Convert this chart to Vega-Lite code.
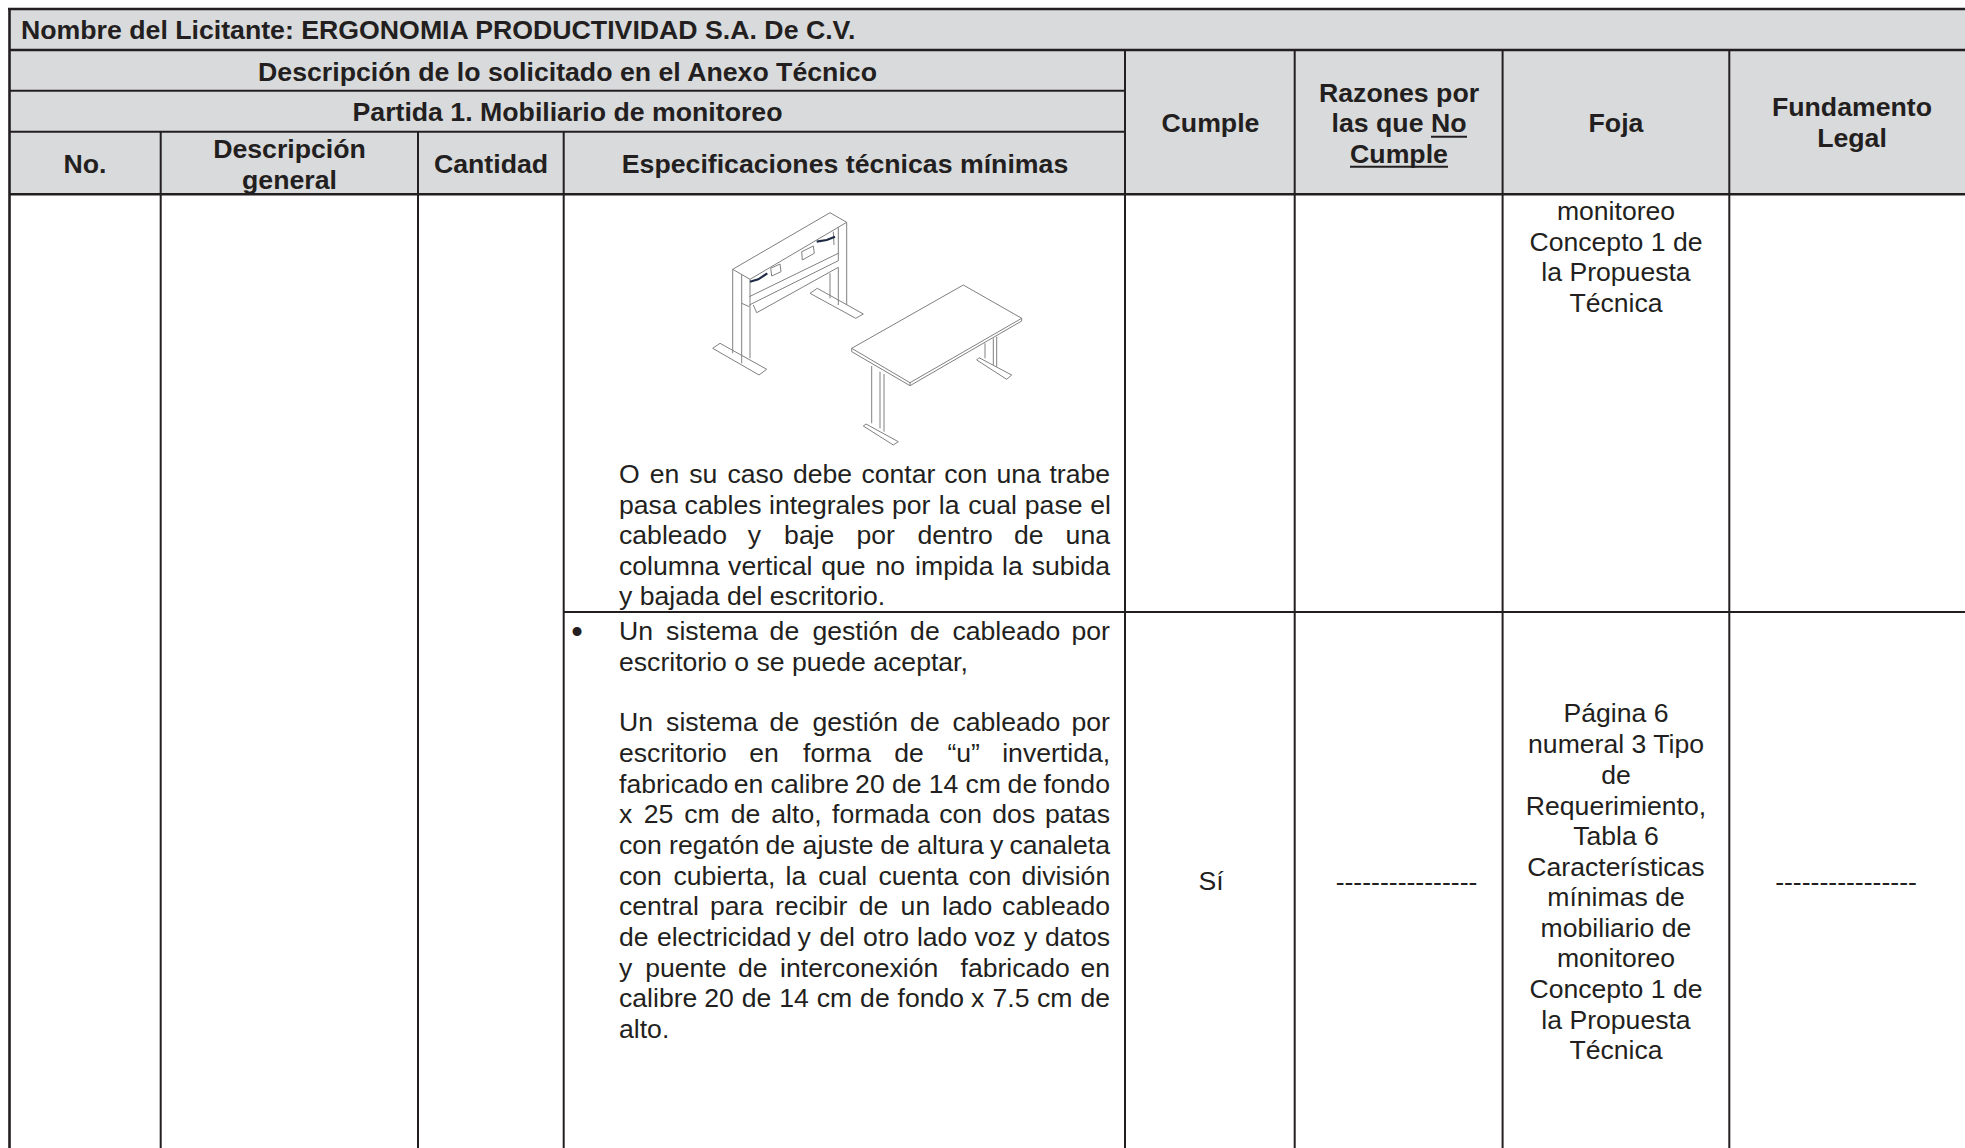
{"$schema":"https://vega.github.io/schema/vega-lite/v6.json","width":1965,"height":1148,"padding":0,"autosize":{"type":"none"},"background":"#ffffff","view":{"stroke":null},
"datasets":{
"band":[{"x":9,"x2":1965,"y":9,"y2":194}],
"rules":[
{"x":8,"x2":1965,"y":9,"y2":9,"k":"heavy"},{"x":9.5,"x2":1965,"y":50,"y2":50,"k":"heavy"},{"x":9.5,"x2":1125,"y":90.7,"y2":90.7,"k":"medium"},{"x":9.5,"x2":1125,"y":131.7,"y2":131.7,"k":"medium"},{"x":9.5,"x2":1965,"y":194.3,"y2":194.3,"k":"heavy"},{"x":564,"x2":1965,"y":612,"y2":612,"k":"medium"},
{"x":9.5,"x2":9.5,"y":9,"y2":1148,"k":"heavy"},{"x":160.7,"x2":160.7,"y":131.7,"y2":1148,"k":"medium"},{"x":418,"x2":418,"y":131.7,"y2":1148,"k":"medium"},{"x":563.7,"x2":563.7,"y":131.7,"y2":1148,"k":"medium"},{"x":1125,"x2":1125,"y":50,"y2":1148,"k":"medium"},{"x":1294.7,"x2":1294.7,"y":50,"y2":1148,"k":"medium"},{"x":1502.6,"x2":1502.6,"y":50,"y2":1148,"k":"medium"},{"x":1729.3,"x2":1729.3,"y":50,"y2":1148,"k":"medium"},
{"x":1431,"x2":1467,"y":136.7,"y2":136.7,"k":"medium"},{"x":1350,"x2":1448,"y":166.7,"y2":166.7,"k":"medium"}],
"boldCenter":[{"t":"Descripción de lo solicitado en el Anexo Técnico","x":567.5,"y":72.5},{"t":"Partida 1. Mobiliario de monitoreo","x":567.5,"y":113},{"t":"No.","x":85,"y":165},{"t":"Descripción","x":289.5,"y":150},{"t":"general","x":289.5,"y":180.5},{"t":"Cantidad","x":491,"y":165},{"t":"Especificaciones técnicas mínimas","x":845,"y":165},{"t":"Cumple","x":1210.5,"y":123.5},{"t":"Razones por","x":1399,"y":93.5},{"t":"las que No","x":1399,"y":124},{"t":"Cumple","x":1399,"y":155},{"t":"Foja","x":1616,"y":123.5},{"t":"Fundamento","x":1852,"y":108},{"t":"Legal","x":1852,"y":139}],
"boldLeft":[{"t":"Nombre del Licitante: ERGONOMIA PRODUCTIVIDAD S.A. De C.V.","x":21,"y":31}],
"center":[{"t":"monitoreo","x":1616,"y":212},{"t":"Concepto 1 de","x":1616,"y":242.5},{"t":"la Propuesta","x":1616,"y":273},{"t":"Técnica","x":1616,"y":304},{"t":"Página 6","x":1616,"y":714},{"t":"numeral 3 Tipo","x":1616,"y":745},{"t":"de","x":1616,"y":776},{"t":"Requerimiento,","x":1616,"y":806.5},{"t":"Tabla 6","x":1616,"y":837},{"t":"Características","x":1616,"y":867.5},{"t":"mínimas de","x":1616,"y":898},{"t":"mobiliario de","x":1616,"y":928.5},{"t":"monitoreo","x":1616,"y":959},{"t":"Concepto 1 de","x":1616,"y":990},{"t":"la Propuesta","x":1616,"y":1020.5},{"t":"Técnica","x":1616,"y":1051},{"t":"Sí","x":1211,"y":882},{"t":"----------------","x":1406.5,"y":883},{"t":"----------------","x":1846,"y":883}],
"bullet":[{"t":"•","x":577,"y":632.5}],
"words":[
{"t":"O","x":619,"y":475},{"t":"en","x":649.8,"y":475},{"t":"su","x":689.3,"y":475},{"t":"caso","x":727.4,"y":475},{"t":"debe","x":793,"y":475},{"t":"contar","x":861.4,"y":475},{"t":"con","x":944.3,"y":475},{"t":"una","x":996.4,"y":475},{"t":"trabe","x":1049.4,"y":475},
{"t":"pasa","x":619,"y":505.5},{"t":"cables","x":684.6,"y":505.5},{"t":"integrales","x":769,"y":505.5},{"t":"por","x":891.9,"y":505.5},{"t":"la","x":938.8,"y":505.5},{"t":"cual","x":968.2,"y":505.5},{"t":"pase","x":1024.8,"y":505.5},{"t":"el","x":1090.3,"y":505.5},
{"t":"cableado","x":619,"y":536},{"t":"y","x":747.8,"y":536},{"t":"baje","x":784.1,"y":536},{"t":"por","x":856.5,"y":536},{"t":"dentro","x":917.4,"y":536},{"t":"de","x":1014,"y":536},{"t":"una","x":1065.6,"y":536},
{"t":"columna","x":619,"y":566.5},{"t":"vertical","x":728.1,"y":566.5},{"t":"que","x":821.2,"y":566.5},{"t":"no","x":875.4,"y":566.5},{"t":"impida","x":915.1,"y":566.5},{"t":"la","x":1002,"y":566.5},{"t":"subida","x":1031.7,"y":566.5},
{"t":"y bajada del escritorio.","x":619,"y":597},
{"t":"Un","x":619,"y":632},{"t":"sistema","x":666.1,"y":632},{"t":"de","x":769.6,"y":632},{"t":"gestión","x":812.4,"y":632},{"t":"de","x":910.1,"y":632},{"t":"cableado","x":952.4,"y":632},{"t":"por","x":1071.4,"y":632},
{"t":"escritorio o se puede aceptar,","x":619,"y":663},
{"t":"Un","x":619,"y":723},{"t":"sistema","x":666.1,"y":723},{"t":"de","x":769.6,"y":723},{"t":"gestión","x":812.4,"y":723},{"t":"de","x":910.1,"y":723},{"t":"cableado","x":952.4,"y":723},{"t":"por","x":1071.4,"y":723},
{"t":"escritorio","x":619,"y":753.5},{"t":"en","x":749.3,"y":753.5},{"t":"forma","x":803,"y":753.5},{"t":"de","x":894.3,"y":753.5},{"t":"“u”","x":947.4,"y":753.5},{"t":"invertida,","x":1002.2,"y":753.5},
{"t":"fabricado","x":619,"y":784.5},{"t":"en","x":733.8,"y":784.5},{"t":"calibre","x":770.6,"y":784.5},{"t":"20","x":855.1,"y":784.5},{"t":"de","x":891.9,"y":784.5},{"t":"14","x":928.7,"y":784.5},{"t":"cm","x":965.5,"y":784.5},{"t":"de","x":1007.6,"y":784.5},{"t":"fondo","x":1043.4,"y":784.5},
{"t":"x","x":619,"y":815},{"t":"25","x":643.7,"y":815},{"t":"cm","x":684.3,"y":815},{"t":"de","x":730.7,"y":815},{"t":"alto,","x":771.3,"y":815},{"t":"formada","x":832.1,"y":815},{"t":"con","x":939.2,"y":815},{"t":"dos","x":992.3,"y":815},{"t":"patas","x":1044.9,"y":815},
{"t":"con","x":619,"y":846},{"t":"regatón","x":669.1,"y":846},{"t":"de","x":765.5,"y":846},{"t":"ajuste","x":802.6,"y":846},{"t":"de","x":880.2,"y":846},{"t":"altura","x":917.3,"y":846},{"t":"y","x":990,"y":846},{"t":"canaleta","x":1009.4,"y":846},
{"t":"con","x":619,"y":876.5},{"t":"cubierta,","x":673.4,"y":876.5},{"t":"la","x":785.6,"y":876.5},{"t":"cual","x":818.3,"y":876.5},{"t":"cuenta","x":878.5,"y":876.5},{"t":"con","x":968.5,"y":876.5},{"t":"división","x":1021.5,"y":876.5},
{"t":"central","x":619,"y":907},{"t":"para","x":710,"y":907},{"t":"recibir","x":775,"y":907},{"t":"de","x":858.7,"y":907},{"t":"un","x":900.6,"y":907},{"t":"lado","x":942,"y":907},{"t":"cableado","x":1002.1,"y":907},
{"t":"de","x":619,"y":937.5},{"t":"electricidad","x":656.9,"y":937.5},{"t":"y","x":797.4,"y":937.5},{"t":"del","x":819.4,"y":937.5},{"t":"otro","x":863.1,"y":937.5},{"t":"lado","x":916.9,"y":937.5},{"t":"voz","x":974.5,"y":937.5},{"t":"y","x":1024,"y":937.5},{"t":"datos","x":1045,"y":937.5},
{"t":"y","x":619,"y":968.5},{"t":"puente","x":645.2,"y":968.5},{"t":"de","x":737.9,"y":968.5},{"t":"interconexión","x":780.1,"y":968.5},{"t":"fabricado","x":960.5,"y":968.5},{"t":"en","x":1080.5,"y":968.5},
{"t":"calibre","x":619,"y":999},{"t":"20","x":704.2,"y":999},{"t":"de","x":741.8,"y":999},{"t":"14","x":779.3,"y":999},{"t":"cm","x":816.8,"y":999},{"t":"de","x":860.1,"y":999},{"t":"fondo","x":897.6,"y":999},{"t":"x","x":971,"y":999},{"t":"7.5","x":992.5,"y":999},{"t":"cm","x":1037,"y":999},{"t":"de","x":1080.4,"y":999},
{"t":"alto.","x":619,"y":1030}],
"sketch":[
{"p":"a","s":1,"x":732.7,"y":269.3},{"p":"a","s":2,"x":830,"y":212.7},{"p":"a","s":3,"x":846.7,"y":222.3},{"p":"a","s":4,"x":750,"y":279.3},{"p":"a","s":5,"x":732.7,"y":269.3},
{"p":"b","s":1,"x":732.7,"y":269.3},{"p":"b","s":2,"x":732.7,"y":353.3},
{"p":"c","s":1,"x":741.7,"y":274},{"p":"c","s":2,"x":741.7,"y":363.3},
{"p":"d","s":1,"x":750,"y":279.3},{"p":"d","s":2,"x":750,"y":358.3},
{"p":"e","s":1,"x":712.7,"y":348.3},{"p":"e","s":2,"x":720,"y":343.3},{"p":"e","s":3,"x":766.7,"y":369.3},{"p":"e","s":4,"x":759,"y":375},{"p":"e","s":5,"x":712.7,"y":348.3},
{"p":"f","s":1,"x":846.7,"y":222.3},{"p":"f","s":2,"x":846.7,"y":305},
{"p":"g","s":1,"x":838.3,"y":227.3},{"p":"g","s":2,"x":838.3,"y":260.7},
{"p":"h","s":1,"x":838.3,"y":267.3},{"p":"h","s":2,"x":838.3,"y":305},
{"p":"i","s":1,"x":830,"y":273.3},{"p":"i","s":2,"x":830,"y":298.3},
{"p":"j","s":1,"x":810,"y":293.3},{"p":"j","s":2,"x":817.3,"y":288.3},{"p":"j","s":3,"x":863.3,"y":314},{"p":"j","s":4,"x":855.7,"y":318.3},{"p":"j","s":5,"x":810,"y":293.3},
{"p":"k","s":1,"x":749.3,"y":296.7},{"p":"k","s":2,"x":838.3,"y":253.3},
{"p":"l","s":1,"x":749.3,"y":305},{"p":"l","s":2,"x":838.3,"y":260.7},
{"p":"n","s":1,"x":753.3,"y":305},{"p":"n","s":2,"x":756.7,"y":312.7},{"p":"n","s":3,"x":838.3,"y":267.3},
{"p":"o","s":1,"x":741.7,"y":303.3},{"p":"o","s":2,"x":749.3,"y":306.7},
{"p":"q","s":1,"x":770.7,"y":268.3},{"p":"q","s":2,"x":780,"y":264},{"p":"q","s":3,"x":781,"y":271.7},{"p":"q","s":4,"x":771.7,"y":276},{"p":"q","s":5,"x":770.7,"y":268.3},
{"p":"r","s":1,"x":801.7,"y":251.7},{"p":"r","s":2,"x":813.3,"y":246},{"p":"r","s":3,"x":814.3,"y":253.3},{"p":"r","s":4,"x":802.3,"y":260},{"p":"r","s":5,"x":801.7,"y":251.7},
{"p":"t","s":1,"x":833.3,"y":231.7},{"p":"t","s":2,"x":834,"y":245},
{"p":"u","s":1,"x":851.7,"y":348.3},{"p":"u","s":2,"x":963.3,"y":285},{"p":"u","s":3,"x":1021.7,"y":318.3},{"p":"u","s":4,"x":910,"y":382.7},{"p":"u","s":5,"x":851.7,"y":348.3},
{"p":"v","s":1,"x":851.7,"y":348.3},{"p":"v","s":2,"x":851.7,"y":351.7},{"p":"v","s":3,"x":910,"y":385.7},{"p":"v","s":4,"x":1021.7,"y":321},{"p":"v","s":5,"x":1021.7,"y":318.3},
{"p":"w","s":1,"x":910,"y":382.7},{"p":"w","s":2,"x":910,"y":385.7},
{"p":"x1","s":1,"x":871.7,"y":366},{"p":"x1","s":2,"x":871.7,"y":423.3},
{"p":"x2","s":1,"x":880,"y":371.7},{"p":"x2","s":2,"x":880,"y":428.3},
{"p":"x3","s":1,"x":884,"y":374},{"p":"x3","s":2,"x":884,"y":431.7},
{"p":"x4","s":1,"x":863.3,"y":426},{"p":"x4","s":2,"x":866,"y":424},{"p":"x4","s":3,"x":898.3,"y":441.7},{"p":"x4","s":4,"x":893.3,"y":445},{"p":"x4","s":5,"x":863.3,"y":426},
{"p":"y1","s":1,"x":985,"y":343.3},{"p":"y1","s":2,"x":985,"y":358.3},
{"p":"y2","s":1,"x":993.3,"y":338.3},{"p":"y2","s":2,"x":993.3,"y":365},
{"p":"y3","s":1,"x":996.7,"y":336.7},{"p":"y3","s":2,"x":996.7,"y":366.7},
{"p":"y4","s":1,"x":976.7,"y":360},{"p":"y4","s":2,"x":979,"y":357.7},{"p":"y4","s":3,"x":1011.7,"y":375},{"p":"y4","s":4,"x":1006.7,"y":379.3},{"p":"y4","s":5,"x":976.7,"y":360}],
"cables":[
{"p":"c1","s":1,"x":750,"y":281.7},{"p":"c1","s":2,"x":758.3,"y":279.3},{"p":"c1","s":3,"x":767.3,"y":273.3},
{"p":"c2","s":1,"x":816.7,"y":241.7},{"p":"c2","s":2,"x":826.7,"y":240},{"p":"c2","s":3,"x":835,"y":236.7}]
},
"encoding":{"x":{"field":"x","type":"quantitative","axis":null,"scale":{"domain":[0,1965],"nice":false,"zero":false}},"y":{"field":"y","type":"quantitative","axis":null,"scale":{"domain":[1148,0],"nice":false,"zero":false}}},
"layer":[
{"data":{"name":"band"},"mark":{"type":"rect","fill":"#d9dadc"},"encoding":{"x2":{"field":"x2"},"y2":{"field":"y2"}}},
{"data":{"name":"sketch"},"mark":{"type":"line","stroke":"#808080","strokeWidth":1,"interpolate":"linear"},"encoding":{"detail":{"field":"p"},"order":{"field":"s","type":"quantitative"}}},
{"data":{"name":"cables"},"mark":{"type":"line","stroke":"#1f2a44","strokeWidth":2.2},"encoding":{"detail":{"field":"p"},"order":{"field":"s","type":"quantitative"}}},
{"data":{"name":"rules"},"mark":{"type":"rule","stroke":"#231f20"},"encoding":{"x2":{"field":"x2"},"y2":{"field":"y2"},"size":{"field":"k","type":"nominal","legend":null,"scale":{"domain":["heavy","medium"],"range":[2.6,2]}}}},
{"data":{"name":"boldCenter"},"mark":{"type":"text","font":"Liberation Sans","fontWeight":"bold","fontSize":26.7,"align":"center","baseline":"middle","fill":"#231f20"},"encoding":{"text":{"field":"t"}}},
{"data":{"name":"boldLeft"},"mark":{"type":"text","font":"Liberation Sans","fontWeight":"bold","fontSize":26.7,"align":"left","baseline":"middle","fill":"#231f20"},"encoding":{"text":{"field":"t"}}},
{"data":{"name":"center"},"mark":{"type":"text","font":"Liberation Sans","fontSize":26.6,"align":"center","baseline":"middle","fill":"#231f20"},"encoding":{"text":{"field":"t"}}},
{"data":{"name":"bullet"},"mark":{"type":"text","font":"Liberation Sans","fontSize":33,"align":"center","baseline":"middle","fill":"#231f20"},"encoding":{"text":{"field":"t"}}},
{"data":{"name":"words"},"mark":{"type":"text","font":"Liberation Sans","fontSize":26.6,"align":"left","baseline":"middle","fill":"#231f20"},"encoding":{"text":{"field":"t"}}}
]}
